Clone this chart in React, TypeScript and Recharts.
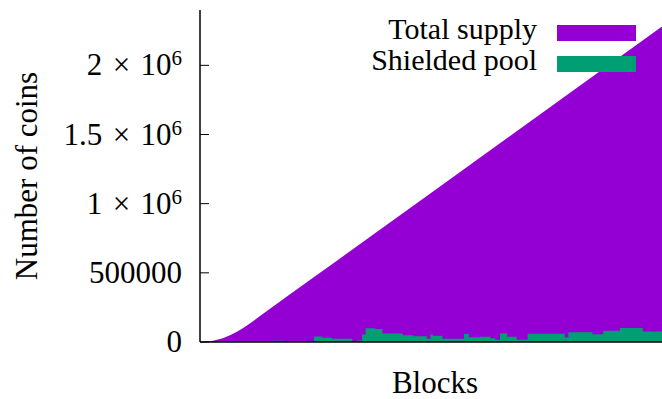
import { AreaChart, Area, XAxis, YAxis, Legend, Label } from "recharts";

// total supply (coins), by block height
const supplyBlocks = [0, 2500, 5000, 7500, 10000, 12500, 15000, 17500, 20000, 25000, 50000, 100000, 150000, 200000];
const totalSupply = [0, 2000, 7800, 17600, 31000, 49000, 70000, 96000, 125000, 187500, 500000, 1125000, 1750000, 2375000];

// shielded pool (coins), step values starting at each block height
const poolBlocks = [
  0, 30000, 35000, 47500, 51000, 55000, 63500, 65500, 67500, 69000, 73000, 76000, 84500, 89000, 94500,
  96000, 97000, 101000, 110000, 112000, 116500, 121000, 123000, 125000, 128000, 132000, 136500, 152000,
  153500, 163500, 168000, 175000, 184500, 200000,
];
const shieldedPool = [
  0, 9000, 2000, 40000, 31000, 24000, 8000, 11000, 55000, 100000, 94000, 61000, 48000, 41000, 24000,
  55000, 45000, 24000, 58000, 34000, 38000, 28000, 17000, 63000, 38000, 16000, 59000, 32000,
  71000, 56000, 82000, 101000, 76000, 76000,
];

const xTicks = [20000, 40000, 60000, 80000, 100000, 120000, 140000, 160000, 180000];
const yTicks = [0, 500000, 1000000, 1500000, 2000000];
const yTickLabels: [string, string][] = [
  ["0", ""],
  ["500000", ""],
  ["1\u2004×\u200410", "6"],
  ["1.5\u2004×\u200410", "6"],
  ["2\u2004×\u200410", "6"],
];

const PURPLE = "#9400d3";
const GREEN = "#009e73";
const FONT = "'Liberation Serif', 'Times New Roman', serif";

type Row = { block: number; supply: number | null; pool: number | null };

function buildRows(): Row[] {
  const m = new Map<number, Row>();
  const get = (b: number) => {
    if (!m.has(b)) m.set(b, { block: b, supply: null, pool: null });
    return m.get(b)!;
  };
  supplyBlocks.forEach((b, i) => (get(b).supply = totalSupply[i]));
  poolBlocks.forEach((b, i) => (get(b).pool = shieldedPool[i]));
  return Array.from(m.values()).sort((a, b) => a.block - b.block);
}

const data = buildRows();

function YTick(props: any) {
  const { x, y, payload } = props;
  const idx = yTicks.indexOf(payload.value);
  const [base, sup] = yTickLabels[idx] ?? [String(payload.value), ""];
  return (
    <text x={x} y={y + 10} textAnchor="end" fontFamily={FONT} fontSize={31} fill="#000">
      {base}
      {sup && (
        <tspan fontSize={21} dy={-10}>
          {sup}
        </tspan>
      )}
    </text>
  );
}

function LegendBox() {
  const items = [
    { name: "Total supply", color: PURPLE },
    { name: "Shielded pool", color: GREEN },
  ];
  return (
    <div style={{ fontFamily: FONT, fontSize: 30 }}>
      {items.map((it) => (
        <div
          key={it.name}
          style={{ display: "flex", justifyContent: "flex-end", alignItems: "flex-start", height: 31, lineHeight: "31px" }}
        >
          <span>{it.name}</span>
          <div style={{ width: 79, height: 16, marginTop: 12, marginLeft: 20, background: it.color }} />
        </div>
      ))}
    </div>
  );
}

export default function App() {
  return (
    <div style={{ position: "absolute", left: 0, top: 0, width: 662, height: 399, overflow: "hidden", background: "#fff" }}>
      <AreaChart width={690} height={399} data={data} margin={{ top: 10, right: 10, bottom: 0, left: 0 }}>
        <Area
          type="monotone"
          dataKey="supply"
          connectNulls
          stroke="none"
          fill={PURPLE}
          fillOpacity={1}
          isAnimationActive={false}
        />
        <Area
          type="stepAfter"
          dataKey="pool"
          connectNulls
          stroke="none"
          fill={GREEN}
          fillOpacity={1}
          isAnimationActive={false}
        />
        <XAxis
          dataKey="block"
          type="number"
          domain={[0, 200000]}
          ticks={xTicks}
          height={57}
          tick={() => <g />}
          tickLine={false}
          axisLine={{ stroke: "#000", strokeWidth: 1.5 }}
        >
          <Label
            content={({ viewBox }: any) => (
              <text
                x={viewBox.x + viewBox.width / 2 - 5}
                y={viewBox.y + 51}
                textAnchor="middle"
                fontFamily={FONT}
                fontSize={31}
                fill="#000"
              >
                Blocks
              </text>
            )}
          />
        </XAxis>
        <XAxis
          xAxisId="top"
          orientation="top"
          dataKey="block"
          type="number"
          domain={[0, 200000]}
          ticks={xTicks}
          height={0}
          tick={() => <g />}
          tickSize={-5}
          tickLine={{ stroke: "#000", strokeWidth: 1 }}
          axisLine={{ stroke: "#000", strokeWidth: 1.5 }}
        />
        <YAxis
          type="number"
          domain={[0, 2400000]}
          ticks={yTicks}
          width={200}
          tickSize={-9}
          tickMargin={27}
          tick={<YTick />}
          tickLine={{ stroke: "#000", strokeWidth: 1 }}
          axisLine={{ stroke: "#000", strokeWidth: 1.5 }}
          allowDataOverflow
        >
          <Label
            content={({ viewBox }: any) => (
              <text
                x={37}
                y={viewBox.y + viewBox.height / 2}
                transform={`rotate(-90, 37, ${viewBox.y + viewBox.height / 2})`}
                textAnchor="middle"
                fontFamily={FONT}
                fontSize={31}
                fill="#000"
              >
                Number of coins
              </text>
            )}
          />
        </YAxis>
        <Legend
          layout="vertical"
          align="center"
          verticalAlign="middle"
          content={<LegendBox />}
          wrapperStyle={{ left: 300, top: 13, width: 336 }}
        />
      </AreaChart>
    </div>
  );
}
